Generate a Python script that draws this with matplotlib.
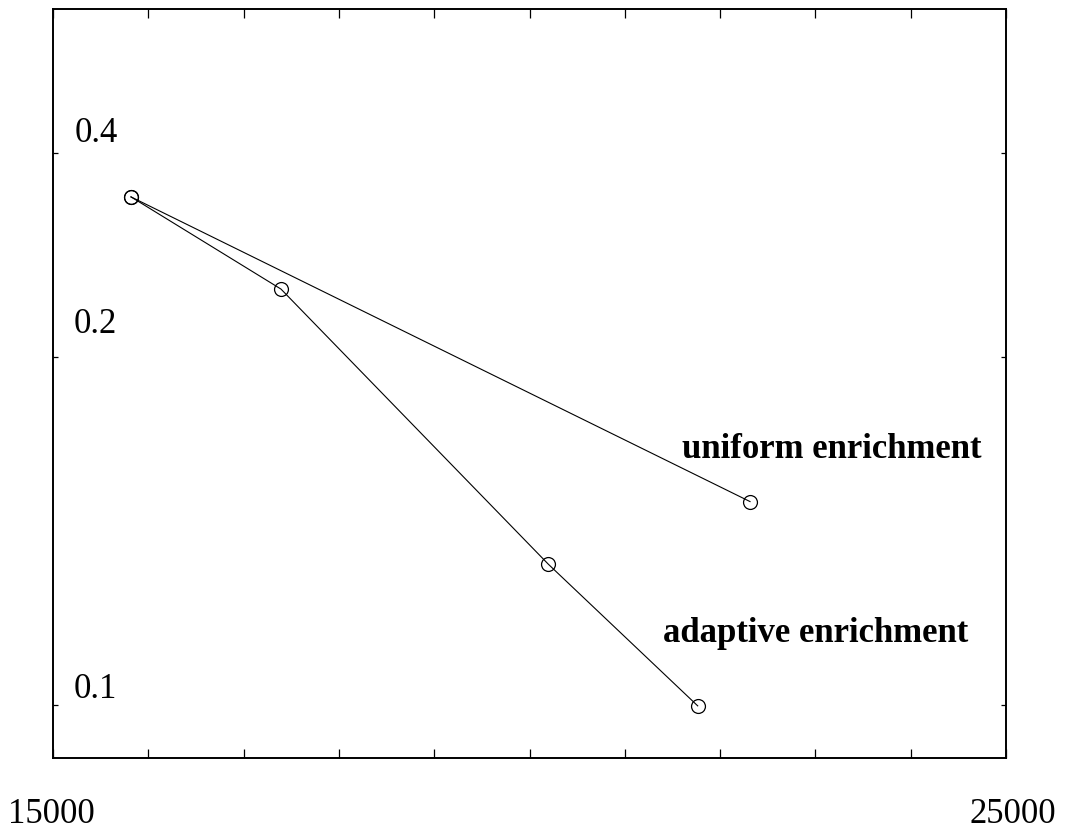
import matplotlib
matplotlib.use('Agg')
import matplotlib.pyplot as plt
import numpy as np

# ── Data ──────────────────────────────────────────────────────────────────────
adaptive_x = [15818, 17392, 20197, 21765]
adaptive_y = [0.333, 0.2425, 0.1269, 0.0999]
uniform_x  = [15818, 22314]
uniform_y  = [0.333, 0.1433]

y_ticks      = [0.1, 0.2, 0.4]
y_tick_texts = ['0.1', '0.2', '0.4']
x_ticks      = list(range(15000, 25001, 1000))
x_end_labels = ['15000', '25000']

# ── Odd y scale: power law spacing of 0.1 / 0.2 / 0.4 ────────────────────────
K = 0.77

def fwd(y):
    y = np.clip(np.asarray(y, dtype=float), 1e-6, None)
    return -y ** (-K)

def inv(g):
    g = np.clip(-np.asarray(g, dtype=float), 1e-6, None)
    return g ** (-1.0 / K)

plt.rcParams['font.family'] = ['Liberation Serif', 'DejaVu Serif']

fig = plt.figure(figsize=(10.65, 8.32), dpi=100)
ax = fig.add_axes([0.0498, 0.0889, 0.8948, 0.9003])

ax.set_yscale('function', functions=(fwd, inv))
ax.set_xlim(15000, 25000)
ax.set_ylim(0.0924, 0.978)

ax.plot(adaptive_x, adaptive_y, color='black', linewidth=0.8, marker='o',
        markersize=10, markerfacecolor='none', markeredgewidth=0.9)
ax.plot(uniform_x, uniform_y, color='black', linewidth=0.8, marker='o',
        markersize=10, markerfacecolor='none', markeredgewidth=0.9)

# ticks: inward, all sides, no default labels
ax.set_xticks(x_ticks)
ax.set_yticks(y_ticks)
ax.minorticks_off()
ax.tick_params(direction='in', top=True, right=True,
               labelbottom=False, labelleft=False, width=0.9)
ax.tick_params(axis='x', length=6.5)
ax.tick_params(axis='y', length=3.6)
for s in ax.spines.values():
    s.set_linewidth(1.4)

# y tick texts sit inside the box, above their ticks
ylab_offsets = {0.1: (21, 7), 0.2: (21, 24), 0.4: (22, 11)}
for v, t in zip(y_ticks, y_tick_texts):
    dx, dy = ylab_offsets[v]
    ax.annotate(t, xy=(0, v), xycoords=ax.get_yaxis_transform(),
                xytext=(dx, dy), textcoords='offset pixels',
                ha='left', va='baseline', fontsize=25)

# x labels only at the two ends, well below the axis
for xv, t, dx in zip([x_ticks[0], x_ticks[-1]], x_end_labels, [-2, 7]):
    ax.annotate(t, xy=(xv, 0), xycoords=ax.get_xaxis_transform(),
                xytext=(dx, -65), textcoords='offset pixels',
                ha='center', va='baseline', fontsize=25, annotation_clip=False)

# curve labels
ax.annotate('uniform enrichment', xy=(uniform_x[-1], uniform_y[-1]),
            xytext=(-68, 44), textcoords='offset pixels',
            ha='left', va='baseline', fontsize=25, fontweight='bold')
ax.annotate('adaptive enrichment', xy=(adaptive_x[-1], adaptive_y[-1]),
            xytext=(-35, 64), textcoords='offset pixels',
            ha='left', va='baseline', fontsize=25, fontweight='bold')

fig.savefig('out.png', dpi=100)
